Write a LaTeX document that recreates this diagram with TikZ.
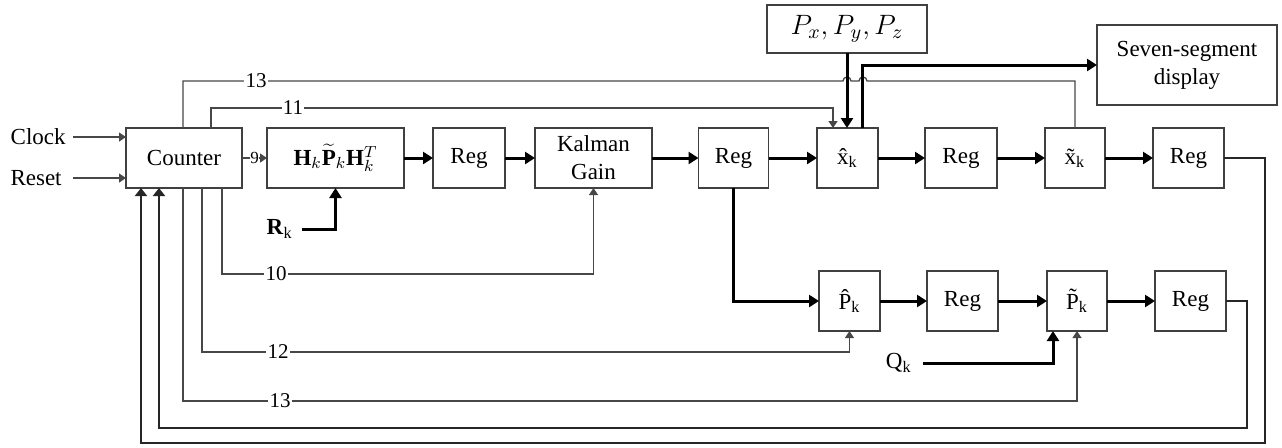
\RequirePackage{fix-cm}
\documentclass[tikz,border=0pt]{standalone}
\usepackage{fontspec}
\setmainfont{Liberation Serif}
\usetikzlibrary{arrows.meta,calc}
\begin{document}
\begin{tikzpicture}[x=0.5pt,y=-0.5pt,
  box/.style={draw=black!75, line width=0.75pt, inner sep=0pt, outer sep=0pt,
    minimum height=30pt, align=center, font=\fontsize{11.5}{14}\selectfont},
  txt/.style={inner ysep=0pt, font=\fontsize{11.5}{14}\selectfont},
  thinline/.style={draw=black!72, line width=0.65pt},
  thinar/.style={thinline, -{Triangle[length=3.5pt,width=4.5pt]}},
  bus/.style={draw=black, line width=1.5pt, -{Triangle[length=5pt,width=6pt]}},
  fb/.style={draw=black!85, line width=1.1pt, -{Triangle[length=4pt,width=6pt]}},
  lbl/.style={fill=white, inner sep=0.6pt, font=\fontsize{10.5}{12}\selectfont},
]
\useasboundingbox (0,0) rectangle (1282,447);

% boxes
\node[box, minimum width=58pt] (counter) at (184,158) {Counter};
\node[box, minimum width=68.5pt] (hk) at (335.5,158) {$\mathbf{H}_k\widetilde{\mathbf{P}}_k\mathbf{H}_k^T$};
\node[box, minimum width=36pt] (reg1) at (469,158) {Reg};
\node[box, minimum width=58.5pt] (kal) at (593.5,158) {Kalman\\Gain};
\node[box, minimum width=35pt] (reg2) at (733.5,158) {Reg};
\node[box, minimum width=30.5pt] (xhat) at (847.5,158) {\^{x}\textsubscript{k}};
\node[box, minimum width=36pt] (reg3) at (961,158) {Reg};
\node[box, minimum width=30pt] (xt) at (1075,158) {\~{x}\textsubscript{k}};
\node[box, minimum width=35.5pt] (reg4) at (1188.5,158) {Reg};
\node[box, minimum width=90pt, minimum height=40pt] (seg) at (1187,65) {Seven-segment\\display};
\node[box, minimum width=80pt, minimum height=24pt, font=\fontsize{14}{16}\selectfont] (pxyz) at (847,29) {$P_x, P_y, P_z$};
\node[box, minimum width=30.5pt] (phat) at (849.5,301) {\^{P}\textsubscript{k}};
\node[box, minimum width=35.5pt] (reg5) at (962.5,301) {Reg};
\node[box, minimum width=30pt] (pt) at (1077,301) {\~{P}\textsubscript{k}};
\node[box, minimum width=35.5pt] (reg6) at (1190.5,301) {Reg};

% inputs
\node[txt, anchor=east, inner xsep=3.5pt] (clock) at (73,137) {Clock};
\node[txt, anchor=east, inner xsep=5.5pt] (reset) at (73,178) {Reset};
\draw[thinar] (clock.east) -- (clock.east -| counter.west);
\draw[thinar] (reset.east) -- (reset.east -| counter.west);
\node[txt, anchor=east, inner xsep=4.5pt] (rk) at (302,229) {\textbf{R}\textsubscript{k}};
\node[txt, anchor=east, inner xsep=5.5pt] (qk) at (923,363) {Q\textsubscript{k}};

% main data path
\draw[thinar] (counter) -- node[lbl, font=\fontsize{8.5}{10}\selectfont, inner sep=0.3pt] {9} (hk);
\draw[bus] (hk) -- (reg1);
\draw[bus] (reg1) -- (kal);
\draw[bus] (kal) -- (reg2);
\draw[bus] (reg2) -- (xhat);
\draw[bus] (xhat) -- (reg3);
\draw[bus] (reg3) -- (xt);
\draw[bus] (xt) -- (reg4);
\draw[bus] (reg2.south) |- (phat.west);
\draw[bus] (phat) -- (reg5);
\draw[bus] (reg5) -- (pt);
\draw[bus] (pt) -- (reg6);
\draw[bus] (rk.east) -| (hk.south);
\draw[bus] (qk.east) -| ($(pt.south)+(-24,0)$);

% counter control lines (top)
\draw[thinline] ($(counter.north)+(-1,0)$) |- (843,81)
  arc[start angle=180, end angle=0, radius=2pt] -- (859,81)
  arc[start angle=180, end angle=0, radius=2pt] -| (xt.north);
\draw[thinar] ($(counter.north)+(27,0)$) -- ++(0,-20) -| ($(xhat.north)+(-14.5,0)$);
\draw[bus] (pxyz.south) -- (pxyz.south |- xhat.north);
\draw[bus] ($(xhat.north)+(15,0)$) |- (seg.west);
\node[lbl] (l13a) at (256,81) {13};
\node[lbl] (l11) at (293,108) {11};

% counter control lines (bottom)
\draw[thinar] ($(counter.south)+(38,0)$) -- ++(0,86) -| (kal.south);
\draw[thinar] ($(counter.south)+(18,0)$) -- ++(0,164) -| (phat.south);
\draw[thinar] ($(counter.south)+(-1,0)$) -- ++(0,213) -| (pt.south);
\node[lbl] (l10) at (276,274) {10};
\node[lbl] (l12) at (278,352) {12};
\node[lbl] (l13b) at (280,401) {13};

% feedback
\draw[fb] (reg6.east) -- ++(21,0) -- ++(0,127) -| ($(counter.south)+(-25,0)$);
\draw[fb] (reg4.east) -- ++(41,0) -- ++(0,285) -| ($(counter.south)+(-43,0)$);
\end{tikzpicture}
\end{document}
